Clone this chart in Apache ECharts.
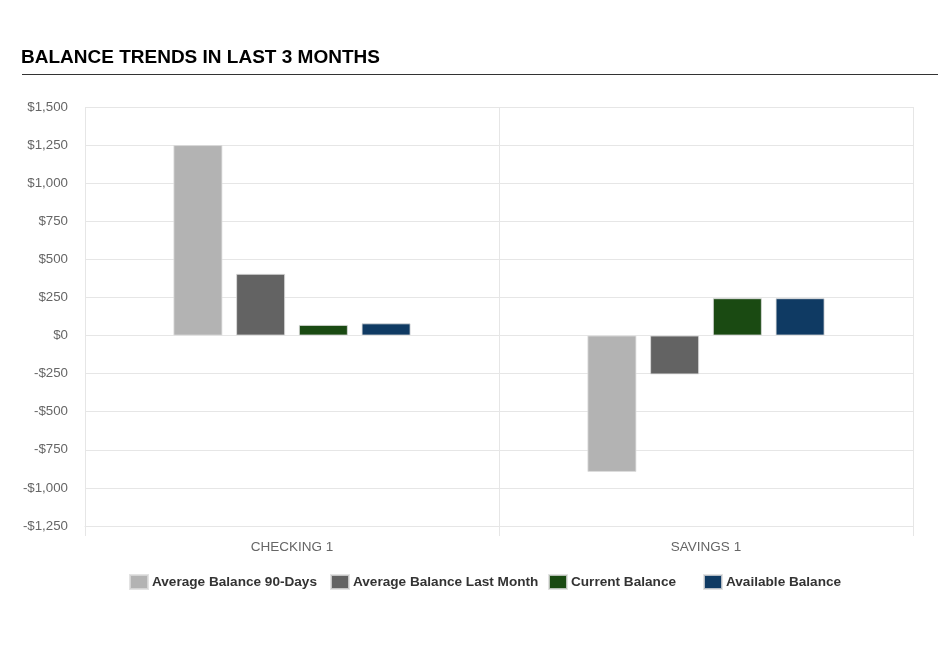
<!DOCTYPE html>
<html>
<head>
<meta charset="utf-8">
<script src="https://cdn.jsdelivr.net/npm/echarts@6/dist/echarts.min.js"></script>
<style>html,body{margin:0;padding:0;background:#fff;}#c{width:938px;height:668px;}</style>
</head>
<body>
<div id="c"></div>
<script>
var categories = ['CHECKING 1', 'SAVINGS 1'];
var seriesNames = ['Average Balance 90-Days', 'Average Balance Last Month', 'Current Balance', 'Available Balance'];
var avg90 = [1250, -895];
var avgLastMonth = [405, -255];
var currentBal = [70, 245];
var availableBal = [80, 245];
var colors = ['#b3b3b3', '#636363', '#1a4a12', '#0f3a63'];

var values = [avg90, avgLastMonth, currentBal, availableBal];
var legendLefts = [129, 330, 548, 703];

var chart = echarts.init(document.getElementById('c'), null, {renderer: 'canvas'});
var fmt = function (v) {
  var s = Math.abs(v).toLocaleString('en-US');
  return (v < 0 ? '-$' : '$') + s;
};
var option = {
  animation: false,
  backgroundColor: '#fff',
  color: colors,
  title: {
    text: 'BALANCE TRENDS IN LAST 3 MONTHS',
    left: 16, top: 43,
    textStyle: {fontFamily: 'Liberation Sans, Arial', fontWeight: 'bold', fontSize: 19, color: '#000'}
  },
  graphic: [{
    type: 'line', shape: {x1: 22, y1: 74.5, x2: 938, y2: 74.5},
    style: {stroke: '#333', lineWidth: 1.2}
  }],
  legend: legendLefts.map(function (l, i) {
    return {
      data: [seriesNames[i]], left: l, top: 574, padding: 0,
      itemWidth: 18, itemHeight: 14, itemGap: 10,
      icon: 'rect',
      textStyle: {fontFamily: 'Liberation Sans, Arial', fontWeight: 'bold', fontSize: 13.6, color: '#333', padding: [0, 0, 0, -1]}
    };
  }),
  grid: {left: 85, right: 25, top: 107, bottom: 142, containLabel: false},
  xAxis: {
    type: 'category', data: categories,
    axisLine: {onZero: false, lineStyle: {color: '#e6e6e6'}},
    axisTick: {show: true, length: 10, lineStyle: {color: '#e6e6e6'}},
    splitLine: {show: true, lineStyle: {color: '#e6e6e6'}},
    axisLabel: {color: '#666', fontFamily: 'Liberation Sans, Arial', fontSize: 13.5, margin: 14}
  },
  yAxis: {
    type: 'value', min: -1250, max: 1500, interval: 250,
    axisLine: {show: false}, axisTick: {show: false},
    splitLine: {lineStyle: {color: '#e6e6e6'}},
    axisLabel: {color: '#666', fontFamily: 'Liberation Sans, Arial', fontSize: 13.3, margin: 17, formatter: fmt}
  },
  series: seriesNames.map(function (n, i) {
    return {
      name: n, type: 'bar', data: values[i],
      barWidth: 49, barGap: '28%',
      itemStyle: {color: colors[i], borderColor: 'rgba(220,220,220,0.8)', borderWidth: 1}
    };
  })
};
chart.setOption(option);
</script>
</body>
</html>
